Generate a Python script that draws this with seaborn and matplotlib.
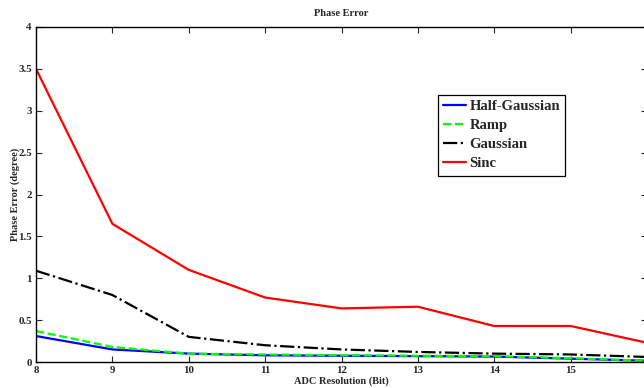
import matplotlib
matplotlib.use("Agg")
import matplotlib.pyplot as plt
import seaborn as sns
import pandas as pd

# ADC resolution (bits) and phase error (degrees) per filter
bits = [8, 9, 10, 11, 12, 13, 14, 15, 16]
bit_labels = ["8", "9", "10", "11", "12", "13", "14", "15", ""]
half_gaussian = [0.31, 0.15, 0.10, 0.08, 0.075, 0.07, 0.065, 0.04, 0.015]
ramp = [0.37, 0.18, 0.10, 0.09, 0.08, 0.075, 0.07, 0.045, 0.015]
gaussian = [1.09, 0.80, 0.30, 0.20, 0.15, 0.12, 0.10, 0.09, 0.06]
sinc = [3.50, 1.65, 1.10, 0.77, 0.64, 0.66, 0.43, 0.43, 0.23]

series = [
    ("Half-Gaussian", half_gaussian, "#0000ff", "-"),
    ("Ramp", ramp, "#00ff00", "--"),
    ("Gaussian", gaussian, "#000000", "-."),
    ("Sinc", sinc, "#ff0000", "-"),
]

sns.set_style("ticks")
plt.rcParams["font.family"] = ["Liberation Serif", "DejaVu Serif"]
plt.rcParams["font.weight"] = "bold"

fig = plt.figure(figsize=(6.44, 3.88), dpi=100)
ax = fig.add_axes([36 / 644, 1 - 362 / 388, (647 - 36) / 644, (362 - 27) / 388])

for name, vals, color, ls in series:
    df = pd.DataFrame({"bits": bits, "err": vals})
    sns.lineplot(data=df, x="bits", y="err", ax=ax, color=color,
                 linestyle=ls, linewidth=1.6, label=name)

ax.set_xlim(8, 16)
ax.set_ylim(0, 4)
ax.set_xticks(bits)
ax.set_xticklabels(bit_labels)
ax.set_yticks([0, 0.5, 1, 1.5, 2, 2.5, 3, 3.5, 4])
ax.set_yticklabels(["0", "0.5", "1", "1.5", "2", "2.5", "3", "3.5", "4"])
ax.tick_params(direction="in", top=True, right=True, length=4, width=0.8,
               labelsize=7.8, pad=3)
for lab in ax.get_xticklabels() + ax.get_yticklabels():
    lab.set_fontweight("bold")
for sp in ax.spines.values():
    sp.set_linewidth(1.0)
    sp.set_color("black")

ax.set_title("Phase Error", fontsize=7.5, fontweight="bold", pad=8)
ax.set_xlabel("ADC Resolution (Bit)", fontsize=7.5, fontweight="bold", labelpad=1)
ax.set_ylabel("Phase Error (degree)", fontsize=7.5, fontweight="bold", labelpad=-1)

leg = ax.legend(loc="upper left", bbox_to_anchor=(438 / 644, 1 - 95 / 388),
                bbox_transform=fig.transFigure, borderaxespad=0,
                fancybox=False, framealpha=1, edgecolor="black",
                prop={"family": ["Liberation Serif"], "weight": "bold", "size": 10.5},
                handlelength=1.6, handletextpad=0.2, labelspacing=0.4,
                borderpad=0.35)
leg.get_frame().set_linewidth(0.9)

fig.savefig("out.png", dpi=100)
